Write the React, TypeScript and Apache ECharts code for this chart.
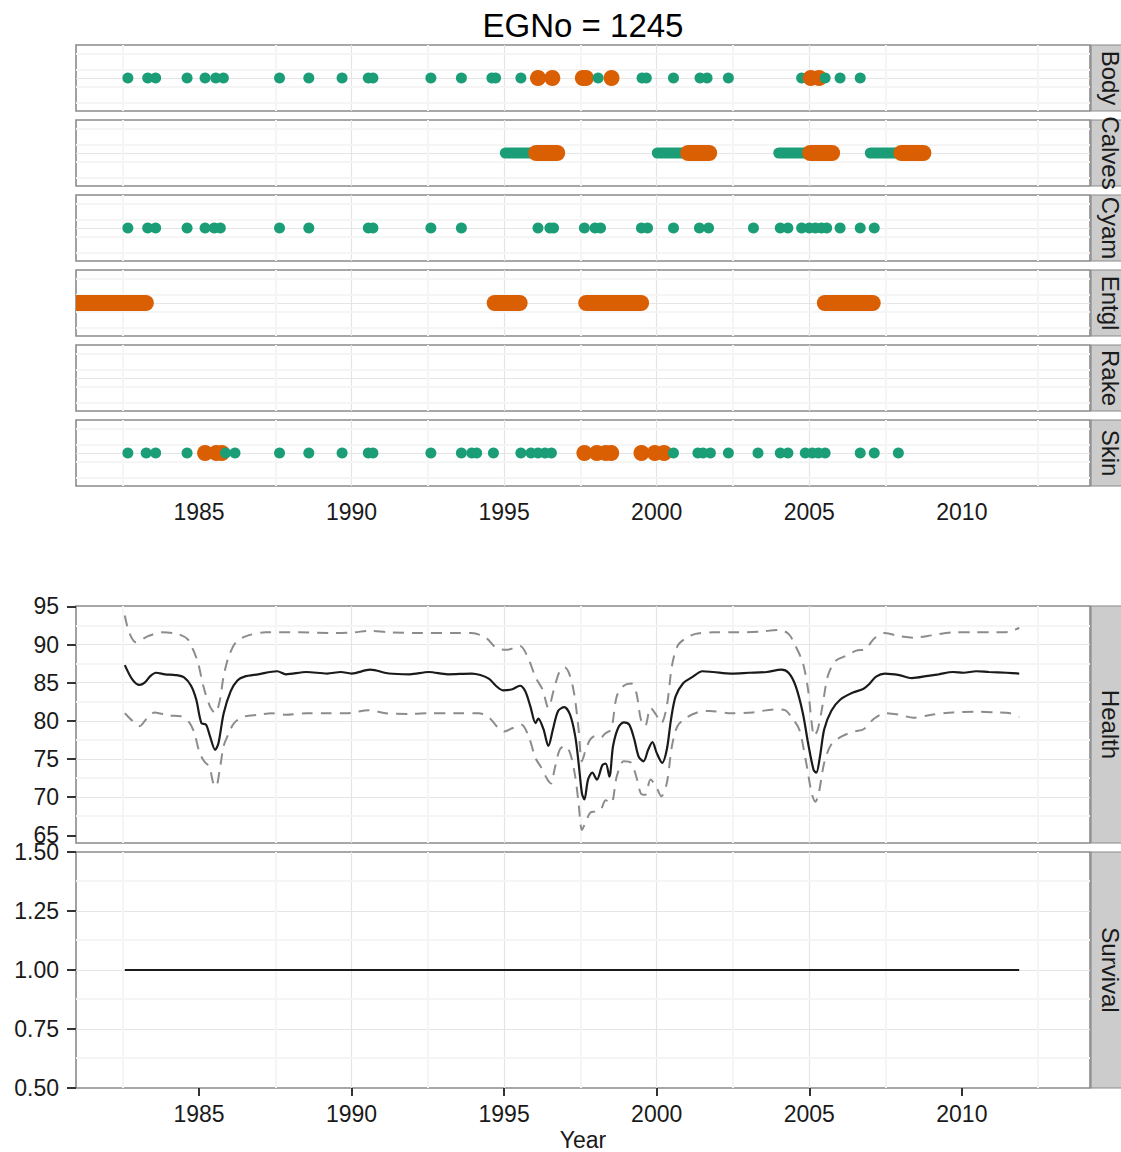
import React, { useEffect, useRef } from "react";
import * as echarts from "echarts";

const FONT = "Liberation Sans, Arial, Helvetica, sans-serif";
const GREEN = "#1B9E77";
const ORANGE = "#D95F02";
const MAJOR = "#e5e5e5";
const MINOR = "#f5f5f5";
const BORDER = "#8a8a8a";
const TEXT = "#1a1a1a";

// ---------- data ----------
const X_MIN = 1980.97;
const X_MAX = 2014.2;
const xTicks = [1985, 1990, 1995, 2000, 2005, 2010];
const xMinor = [1982.5, 1987.5, 1992.5, 1997.5, 2002.5, 2007.5, 2012.5];

const facetNames = ["Body", "Calves", "Cyam", "Entgl", "Rake", "Skin"];
const LANE = 2;
const laneMajor = [1, 2, 3];
const laneMinor = [0.5, 1.5, 2.5, 3.5];

// [year, flag] flag 0 = green, 1 = orange
const bodyEvents: [number, number][] = [
  [1982.67, 0], [1983.32, 0], [1983.58, 0], [1984.61, 0], [1985.2, 0], [1985.55, 0], [1985.8, 0],
  [1987.64, 0], [1988.6, 0], [1989.69, 0], [1990.55, 0], [1990.7, 0], [1992.6, 0], [1993.6, 0],
  [1994.6, 0], [1994.72, 0], [1995.55, 0], [1996.11, 1], [1996.58, 1], [1997.58, 1], [1997.68, 1],
  [1998.08, 0], [1998.52, 1], [1999.52, 0], [1999.66, 0], [2000.55, 0], [2001.42, 0], [2001.65, 0],
  [2002.35, 0], [2004.75, 0], [2005.05, 1], [2005.32, 1], [2005.52, 0], [2006.01, 0], [2006.67, 0],
];

const cyamEvents: [number, number][] = [
  [1982.67, 0], [1983.32, 0], [1983.58, 0], [1984.61, 0], [1985.2, 0], [1985.5, 0], [1985.7, 0],
  [1987.64, 0], [1988.6, 0], [1990.55, 0], [1990.7, 0], [1992.6, 0], [1993.6, 0], [1996.11, 0],
  [1996.5, 0], [1996.62, 0], [1997.63, 0], [1997.98, 0], [1998.16, 0], [1999.5, 0], [1999.7, 0],
  [2000.55, 0], [2001.4, 0], [2001.7, 0], [2003.17, 0], [2004.05, 0], [2004.3, 0], [2004.75, 0],
  [2005.0, 0], [2005.2, 0], [2005.4, 0], [2005.57, 0], [2006.01, 0], [2006.67, 0], [2007.13, 0],
];

const skinEvents: [number, number][] = [
  [1982.67, 0], [1983.27, 0], [1983.58, 0], [1984.61, 0], [1985.2, 1], [1985.57, 1], [1985.75, 1],
  [1985.87, 0], [1986.18, 0], [1987.64, 0], [1988.6, 0], [1989.69, 0], [1990.55, 0], [1990.7, 0],
  [1992.6, 0], [1993.6, 0], [1993.94, 0], [1994.1, 0], [1994.65, 0], [1995.55, 0], [1995.88, 0],
  [1996.11, 0], [1996.34, 0], [1996.55, 0], [1997.63, 1], [1998.04, 1], [1998.33, 1], [1998.51, 1],
  [1999.5, 1], [1999.94, 1], [2000.24, 1], [2000.55, 0], [2001.35, 0], [2001.52, 0], [2001.76, 0],
  [2002.35, 0], [2003.32, 0], [2004.05, 0], [2004.3, 0], [2004.87, 0], [2005.1, 0], [2005.3, 0],
  [2005.52, 0], [2006.67, 0], [2007.13, 0], [2007.92, 0],
];

// [start, end] segments
const calvesGreen: [number, number][] = [
  [1995.04, 1996.05], [2000.02, 2001.03], [2004.0, 2005.03], [2007.0, 2008.02],
];
const calvesOrange: [number, number][] = [
  [1996.05, 1996.74], [2001.03, 2001.72], [2005.03, 2005.75], [2008.02, 2008.74],
];
const entglOrange: [number, number][] = [
  [1980.4, 1983.26], [1994.69, 1995.51], [1997.69, 1999.49], [2005.51, 2007.08],
];

const HEALTH_MIN = 63.99;
const HEALTH_MAX = 95.05;
const healthTicks = [65, 70, 75, 80, 85, 90, 95];
const healthMinor = [67.5, 72.5, 77.5, 82.5, 87.5, 92.5];

const healthMean: [number, number][] = [
  [1982.57, 87.3], [1982.82, 85.4], [1983.05, 84.7], [1983.22, 85.0], [1983.39, 85.8], [1983.59, 86.3],
  [1983.89, 86.1], [1984.23, 86.0], [1984.51, 85.7], [1984.74, 84.6], [1984.91, 82.8], [1985.08, 79.7],
  [1985.23, 79.5], [1985.36, 78.0], [1985.53, 76.2], [1985.64, 77.1], [1985.81, 81.0], [1986.04, 83.9],
  [1986.26, 85.3], [1986.49, 85.8], [1986.94, 86.1], [1987.56, 86.5], [1987.85, 86.1], [1988.52, 86.4],
  [1989.2, 86.2], [1989.65, 86.4], [1990.0, 86.2], [1990.61, 86.7], [1991.23, 86.2], [1991.91, 86.1],
  [1992.53, 86.4], [1993.15, 86.1], [1993.94, 86.2], [1994.22, 86.0], [1994.51, 85.5], [1994.73, 84.6],
  [1994.96, 84.0], [1995.24, 84.1], [1995.52, 84.6], [1995.69, 83.9], [1995.86, 81.9], [1996.03, 79.7],
  [1996.12, 80.3], [1996.29, 78.9], [1996.45, 76.7], [1996.6, 78.9], [1996.77, 81.3], [1996.97, 81.8],
  [1997.16, 80.8], [1997.33, 78.0], [1997.44, 74.5], [1997.55, 70.5], [1997.63, 69.7], [1997.75, 72.3],
  [1997.89, 73.2], [1998.04, 72.3], [1998.22, 74.2], [1998.33, 74.4], [1998.45, 72.7], [1998.57, 76.7],
  [1998.74, 79.1], [1998.92, 79.8], [1999.1, 79.5], [1999.27, 77.5], [1999.41, 75.3], [1999.57, 74.7],
  [1999.72, 76.2], [1999.86, 77.2], [2000.0, 75.8], [2000.18, 74.5], [2000.33, 76.2], [2000.47, 80.2],
  [2000.62, 83.2], [2000.86, 84.9], [2001.15, 85.7], [2001.5, 86.5], [2001.85, 86.4], [2002.44, 86.2],
  [2003.03, 86.3], [2003.61, 86.4], [2004.08, 86.7], [2004.32, 86.3], [2004.55, 84.6], [2004.79, 81.0],
  [2004.96, 77.1], [2005.14, 73.6], [2005.23, 73.2], [2005.35, 75.3], [2005.49, 78.9], [2005.72, 81.3],
  [2006.02, 82.8], [2006.43, 83.7], [2006.78, 84.2], [2006.96, 84.8], [2007.19, 85.8], [2007.48, 86.2],
  [2007.95, 86.0], [2008.36, 85.6], [2008.89, 85.9], [2009.24, 86.1], [2009.71, 86.4], [2010.06, 86.3],
  [2010.47, 86.5], [2010.89, 86.4], [2011.47, 86.3], [2011.88, 86.2],
];

const healthUpper: [number, number][] = [
  [1982.57, 93.8], [1982.71, 91.6], [1982.93, 90.3], [1983.33, 91.1], [1983.78, 91.6], [1984.29, 91.4],
  [1984.63, 90.7], [1984.8, 89.4], [1984.97, 87.6], [1985.14, 84.6], [1985.36, 81.9], [1985.53, 81.0],
  [1985.68, 82.6], [1985.81, 85.9], [1985.98, 88.5], [1986.21, 90.3], [1986.55, 91.1], [1987.17, 91.6],
  [1988.3, 91.6], [1989.43, 91.5], [1990.1, 91.6], [1990.55, 91.8], [1991.23, 91.6], [1992.25, 91.5],
  [1993.38, 91.5], [1993.94, 91.5], [1994.4, 90.9], [1994.73, 89.6], [1995.08, 89.3], [1995.52, 89.8],
  [1995.8, 88.1], [1996.03, 85.7], [1996.26, 84.1], [1996.45, 81.7], [1996.63, 84.1], [1996.82, 86.5],
  [1996.99, 87.0], [1997.16, 85.9], [1997.31, 83.2], [1997.44, 78.9], [1997.55, 74.7], [1997.69, 76.4],
  [1997.83, 77.6], [1997.98, 78.0], [1998.16, 77.8], [1998.33, 78.4], [1998.51, 78.9], [1998.69, 83.2],
  [1998.92, 84.6], [1999.16, 84.9], [1999.33, 83.7], [1999.48, 80.2], [1999.62, 79.3], [1999.8, 81.7],
  [1999.98, 80.8], [2000.15, 79.7], [2000.33, 81.9], [2000.5, 87.2], [2000.68, 89.8], [2000.91, 90.7],
  [2001.27, 91.4], [2001.85, 91.6], [2002.67, 91.6], [2003.38, 91.7], [2004.02, 91.9], [2004.32, 91.4],
  [2004.55, 89.8], [2004.79, 87.6], [2004.96, 84.1], [2005.08, 79.7], [2005.16, 78.0], [2005.28, 78.9],
  [2005.43, 81.9], [2005.61, 85.9], [2005.85, 87.8], [2006.19, 88.5], [2006.54, 89.2], [2006.84, 89.4],
  [2007.13, 90.8], [2007.48, 91.5], [2007.95, 91.1], [2008.42, 90.9], [2009.01, 91.2], [2009.71, 91.6],
  [2010.41, 91.6], [2011.12, 91.6], [2011.58, 91.7], [2011.88, 92.2],
];

const healthLower: [number, number][] = [
  [1982.57, 81.0], [1982.82, 80.0], [1983.05, 79.3], [1983.27, 80.2], [1983.55, 81.1], [1984.0, 80.7],
  [1984.4, 80.6], [1984.68, 79.8], [1984.85, 78.4], [1985.02, 75.8], [1985.19, 74.6], [1985.34, 74.0],
  [1985.47, 71.8], [1985.56, 71.4], [1985.68, 73.6], [1985.81, 76.7], [1985.98, 78.4], [1986.15, 79.7],
  [1986.43, 80.5], [1986.94, 80.8], [1987.39, 81.0], [1987.85, 80.8], [1988.52, 81.0], [1989.2, 81.0],
  [1989.88, 81.0], [1990.55, 81.4], [1991.12, 81.0], [1991.91, 80.9], [1992.59, 81.0], [1993.38, 81.0],
  [1994.17, 81.0], [1994.51, 80.4], [1994.8, 79.1], [1995.01, 78.6], [1995.3, 79.1], [1995.57, 79.5],
  [1995.8, 78.0], [1996.03, 75.1], [1996.2, 74.0], [1996.42, 72.3], [1996.54, 71.8], [1996.65, 73.6],
  [1996.82, 76.2], [1996.99, 76.7], [1997.16, 75.8], [1997.33, 72.7], [1997.44, 69.2], [1997.55, 65.7],
  [1997.66, 66.6], [1997.83, 68.0], [1997.98, 68.1], [1998.16, 68.3], [1998.33, 69.6], [1998.51, 69.2],
  [1998.69, 72.7], [1998.92, 74.7], [1999.16, 74.5], [1999.33, 72.7], [1999.48, 70.5], [1999.62, 70.3],
  [1999.8, 72.3], [1999.98, 71.4], [2000.15, 70.1], [2000.33, 71.8], [2000.5, 76.7], [2000.68, 79.3],
  [2000.97, 80.4], [2001.33, 81.1], [2001.74, 81.3], [2002.44, 81.0], [2003.14, 81.1], [2003.85, 81.5],
  [2004.2, 81.4], [2004.43, 80.4], [2004.67, 78.9], [2004.9, 74.5], [2005.08, 70.5], [2005.2, 69.4],
  [2005.31, 70.5], [2005.49, 74.5], [2005.72, 76.9], [2006.08, 78.0], [2006.49, 78.6], [2006.78, 78.9],
  [2007.13, 80.3], [2007.48, 81.0], [2007.95, 80.8], [2008.42, 80.4], [2009.01, 80.8], [2009.71, 81.1],
  [2010.41, 81.2], [2011.12, 81.1], [2011.58, 81.0], [2011.88, 80.5],
];

const survivalTicks = [0.5, 0.75, 1.0, 1.25, 1.5];
const survivalMinor = [0.625, 0.875, 1.125, 1.375];
const survivalYears = [1982.57, 2011.88];
const survivalValues = [1, 1];

// ---------- layout ----------
const PLOT_LEFT = 76;
const PLOT_WIDTH = 1014;
const FACET_TOP0 = 45;
const FACET_STEP = 75;
const FACET_H = 66;
const HEALTH_TOP = 606;
const HEALTH_H = 237;
const SURV_TOP = 852;
const SURV_H = 236;
const STRIP_X = 1091;
const STRIP_W = 40;
const STRIP_TEXT_X = 1110;
const TICK_FONT = 23;
const STRIP_FONT = 24;

function buildOption() {
  const grids: any[] = [];
  const xAxes: any[] = [];
  const yAxes: any[] = [];
  const series: any[] = [];
  const graphics: any[] = [];

  const panels: { top: number; height: number; name: string }[] = [];
  facetNames.forEach((name, i) => panels.push({ top: FACET_TOP0 + FACET_STEP * i, height: FACET_H, name }));
  panels.push({ top: HEALTH_TOP, height: HEALTH_H, name: "Health" });
  panels.push({ top: SURV_TOP, height: SURV_H, name: "Survival" });

  panels.forEach((p, i) => {
    grids.push({
      left: PLOT_LEFT, width: PLOT_WIDTH, top: p.top, height: p.height,
      show: true, borderColor: BORDER, borderWidth: 1.6, backgroundColor: "#ffffff",
      containLabel: false, outerBoundsMode: "none",
    });
    const isSkin = i === 5;
    const isSurv = i === 7;
    xAxes.push({
      type: "value", gridIndex: i, min: X_MIN, max: X_MAX,
      axisLine: { show: false },
      axisTick: { show: isSurv, customValues: xTicks, length: 8, lineStyle: { color: "#333", width: 2 } },
      axisLabel: {
        show: isSkin || isSurv, customValues: xTicks, formatter: (v: number) => String(v),
        fontSize: TICK_FONT, color: TEXT, margin: 14, fontFamily: FONT,
      },
      splitLine: { show: true, showMinLine: false, showMaxLine: false, lineStyle: { color: MAJOR, width: 1.2 } },
      name: isSurv ? "Year" : "",
      nameLocation: "middle",
      nameGap: 40,
      nameTextStyle: { fontSize: TICK_FONT, color: TEXT, fontFamily: FONT },
    });
    if (i < 6) {
      yAxes.push({
        type: "value", gridIndex: i, min: 0, max: 4,
        axisLine: { show: false },
        axisTick: { show: false, customValues: laneMajor },
        axisLabel: { show: false, customValues: laneMajor },
        splitLine: { show: true, showMinLine: false, showMaxLine: false, lineStyle: { color: MAJOR, width: 1.2 } },
      });
    } else {
      const health = i === 6;
      yAxes.push({
        type: "value", gridIndex: i,
        min: health ? HEALTH_MIN : 0.5, max: health ? HEALTH_MAX : 1.5,
        axisLine: { show: false },
        axisTick: { show: true, customValues: health ? healthTicks : survivalTicks, length: 9, lineStyle: { color: "#333", width: 2 } },
        axisLabel: {
          show: true, customValues: health ? healthTicks : survivalTicks,
          formatter: (v: number) => (health ? String(v) : v.toFixed(2)),
          fontSize: TICK_FONT, color: TEXT, margin: 17, fontFamily: FONT,
        },
        splitLine: { show: true, showMinLine: false, showMaxLine: false, lineStyle: { color: MAJOR, width: 1.2 } },
      });
    }

    // minor grid lines (kept under every mark)
    const yMinor = i < 6 ? laneMinor : i === 6 ? healthMinor : survivalMinor;
    series.push({
      type: "line", xAxisIndex: i, yAxisIndex: i, data: [], z: 0, silent: true,
      markLine: {
        z: 0, silent: true, symbol: ["none", "none"], label: { show: false },
        lineStyle: { color: MINOR, width: 2, type: "solid" },
        emphasis: { disabled: true }, animation: false,
        data: [...xMinor.map((v) => ({ xAxis: v })), ...yMinor.map((v) => ({ yAxis: v }))],
      },
    });

    // strip
    graphics.push({
      type: "rect", shape: { x: STRIP_X, y: p.top, width: STRIP_W, height: p.height },
      style: { fill: "#cccccc", stroke: BORDER, lineWidth: 1.2 }, z: 10,
    });
    graphics.push({
      type: "text", x: STRIP_TEXT_X, y: p.top + p.height / 2, rotation: -Math.PI / 2,
      style: { text: p.name, fontSize: STRIP_FONT, fill: TEXT, fontFamily: FONT, align: "center", verticalAlign: "middle" },
      z: 11,
    });
  });

  const eventSeries = (idx: number, events: [number, number][]) => ({
    type: "scatter", xAxisIndex: idx, yAxisIndex: idx, z: 3, silent: true,
    data: events.map(([yr, f]) => [yr, LANE, f]),
    symbol: "circle",
    symbolSize: (v: number[]) => (v[2] ? 16 : 11),
    itemStyle: { color: (p: any) => (p.value[2] ? ORANGE : GREEN), opacity: 1 },
    emphasis: { disabled: true },
  });

  const segmentSeries = (idx: number, segs: [number, number][], color: string, size: number, z: number) => ({
    type: "custom", xAxisIndex: idx, yAxisIndex: idx, z, silent: true, clip: true,
    data: segs.map((s) => [s[0], s[1], LANE]),
    encode: { x: [0, 1], y: 2 },
    renderItem: (_params: any, api: any) => {
      const a = api.coord([api.value(0), api.value(2)]);
      const b = api.coord([api.value(1), api.value(2)]);
      return {
        type: "rect",
        shape: { x: a[0] - size / 2, y: a[1] - size / 2, width: b[0] - a[0] + size, height: size, r: size / 2 },
        style: { fill: color },
      };
    },
  });

  series.push(eventSeries(0, bodyEvents));
  series.push(segmentSeries(1, calvesGreen, GREEN, 11, 3));
  series.push(segmentSeries(1, calvesOrange, ORANGE, 16, 4));
  series.push(eventSeries(2, cyamEvents));
  series.push(segmentSeries(3, entglOrange, ORANGE, 16, 4));
  series.push(eventSeries(5, skinEvents));

  const lineBase = { type: "line", xAxisIndex: 6, yAxisIndex: 6, symbol: "none", showSymbol: false, smooth: 0.3, silent: true, emphasis: { disabled: true }, z: 3 };
  series.push({ ...lineBase, data: healthUpper, lineStyle: { color: "#8c8c8c", width: 2, type: [11, 8] } });
  series.push({ ...lineBase, data: healthLower, lineStyle: { color: "#8c8c8c", width: 2, type: [11, 8] } });
  series.push({ ...lineBase, data: healthMean, z: 4, lineStyle: { color: "#1a1a1a", width: 2.2 } });

  series.push({
    type: "line", xAxisIndex: 7, yAxisIndex: 7, symbol: "none", showSymbol: false, silent: true, z: 4,
    data: survivalYears.map((y, k) => [y, survivalValues[k]]),
    lineStyle: { color: "#1a1a1a", width: 2.2 },
  });

  graphics.push({
    type: "text", x: PLOT_LEFT + PLOT_WIDTH / 2, y: 25,
    style: { text: "EGNo = 1245", fontSize: 33, fill: "#000", fontFamily: FONT, align: "center", verticalAlign: "middle" },
  });

  return {
    animation: false,
    backgroundColor: "#ffffff",
    textStyle: { fontFamily: FONT },
    grid: grids,
    xAxis: xAxes,
    yAxis: yAxes,
    series,
    graphic: graphics,
  };
}

export default function App() {
  const ref = useRef<HTMLDivElement>(null);
  useEffect(() => {
    if (!ref.current) return;
    const chart = echarts.init(ref.current, undefined, { renderer: "svg" });
    chart.setOption(buildOption() as any);
    return () => chart.dispose();
  }, []);
  return (
    <div
      ref={ref}
      style={{ position: "absolute", left: 0, top: 0, width: 1121, height: 1152, background: "#fff" }}
    />
  );
}
